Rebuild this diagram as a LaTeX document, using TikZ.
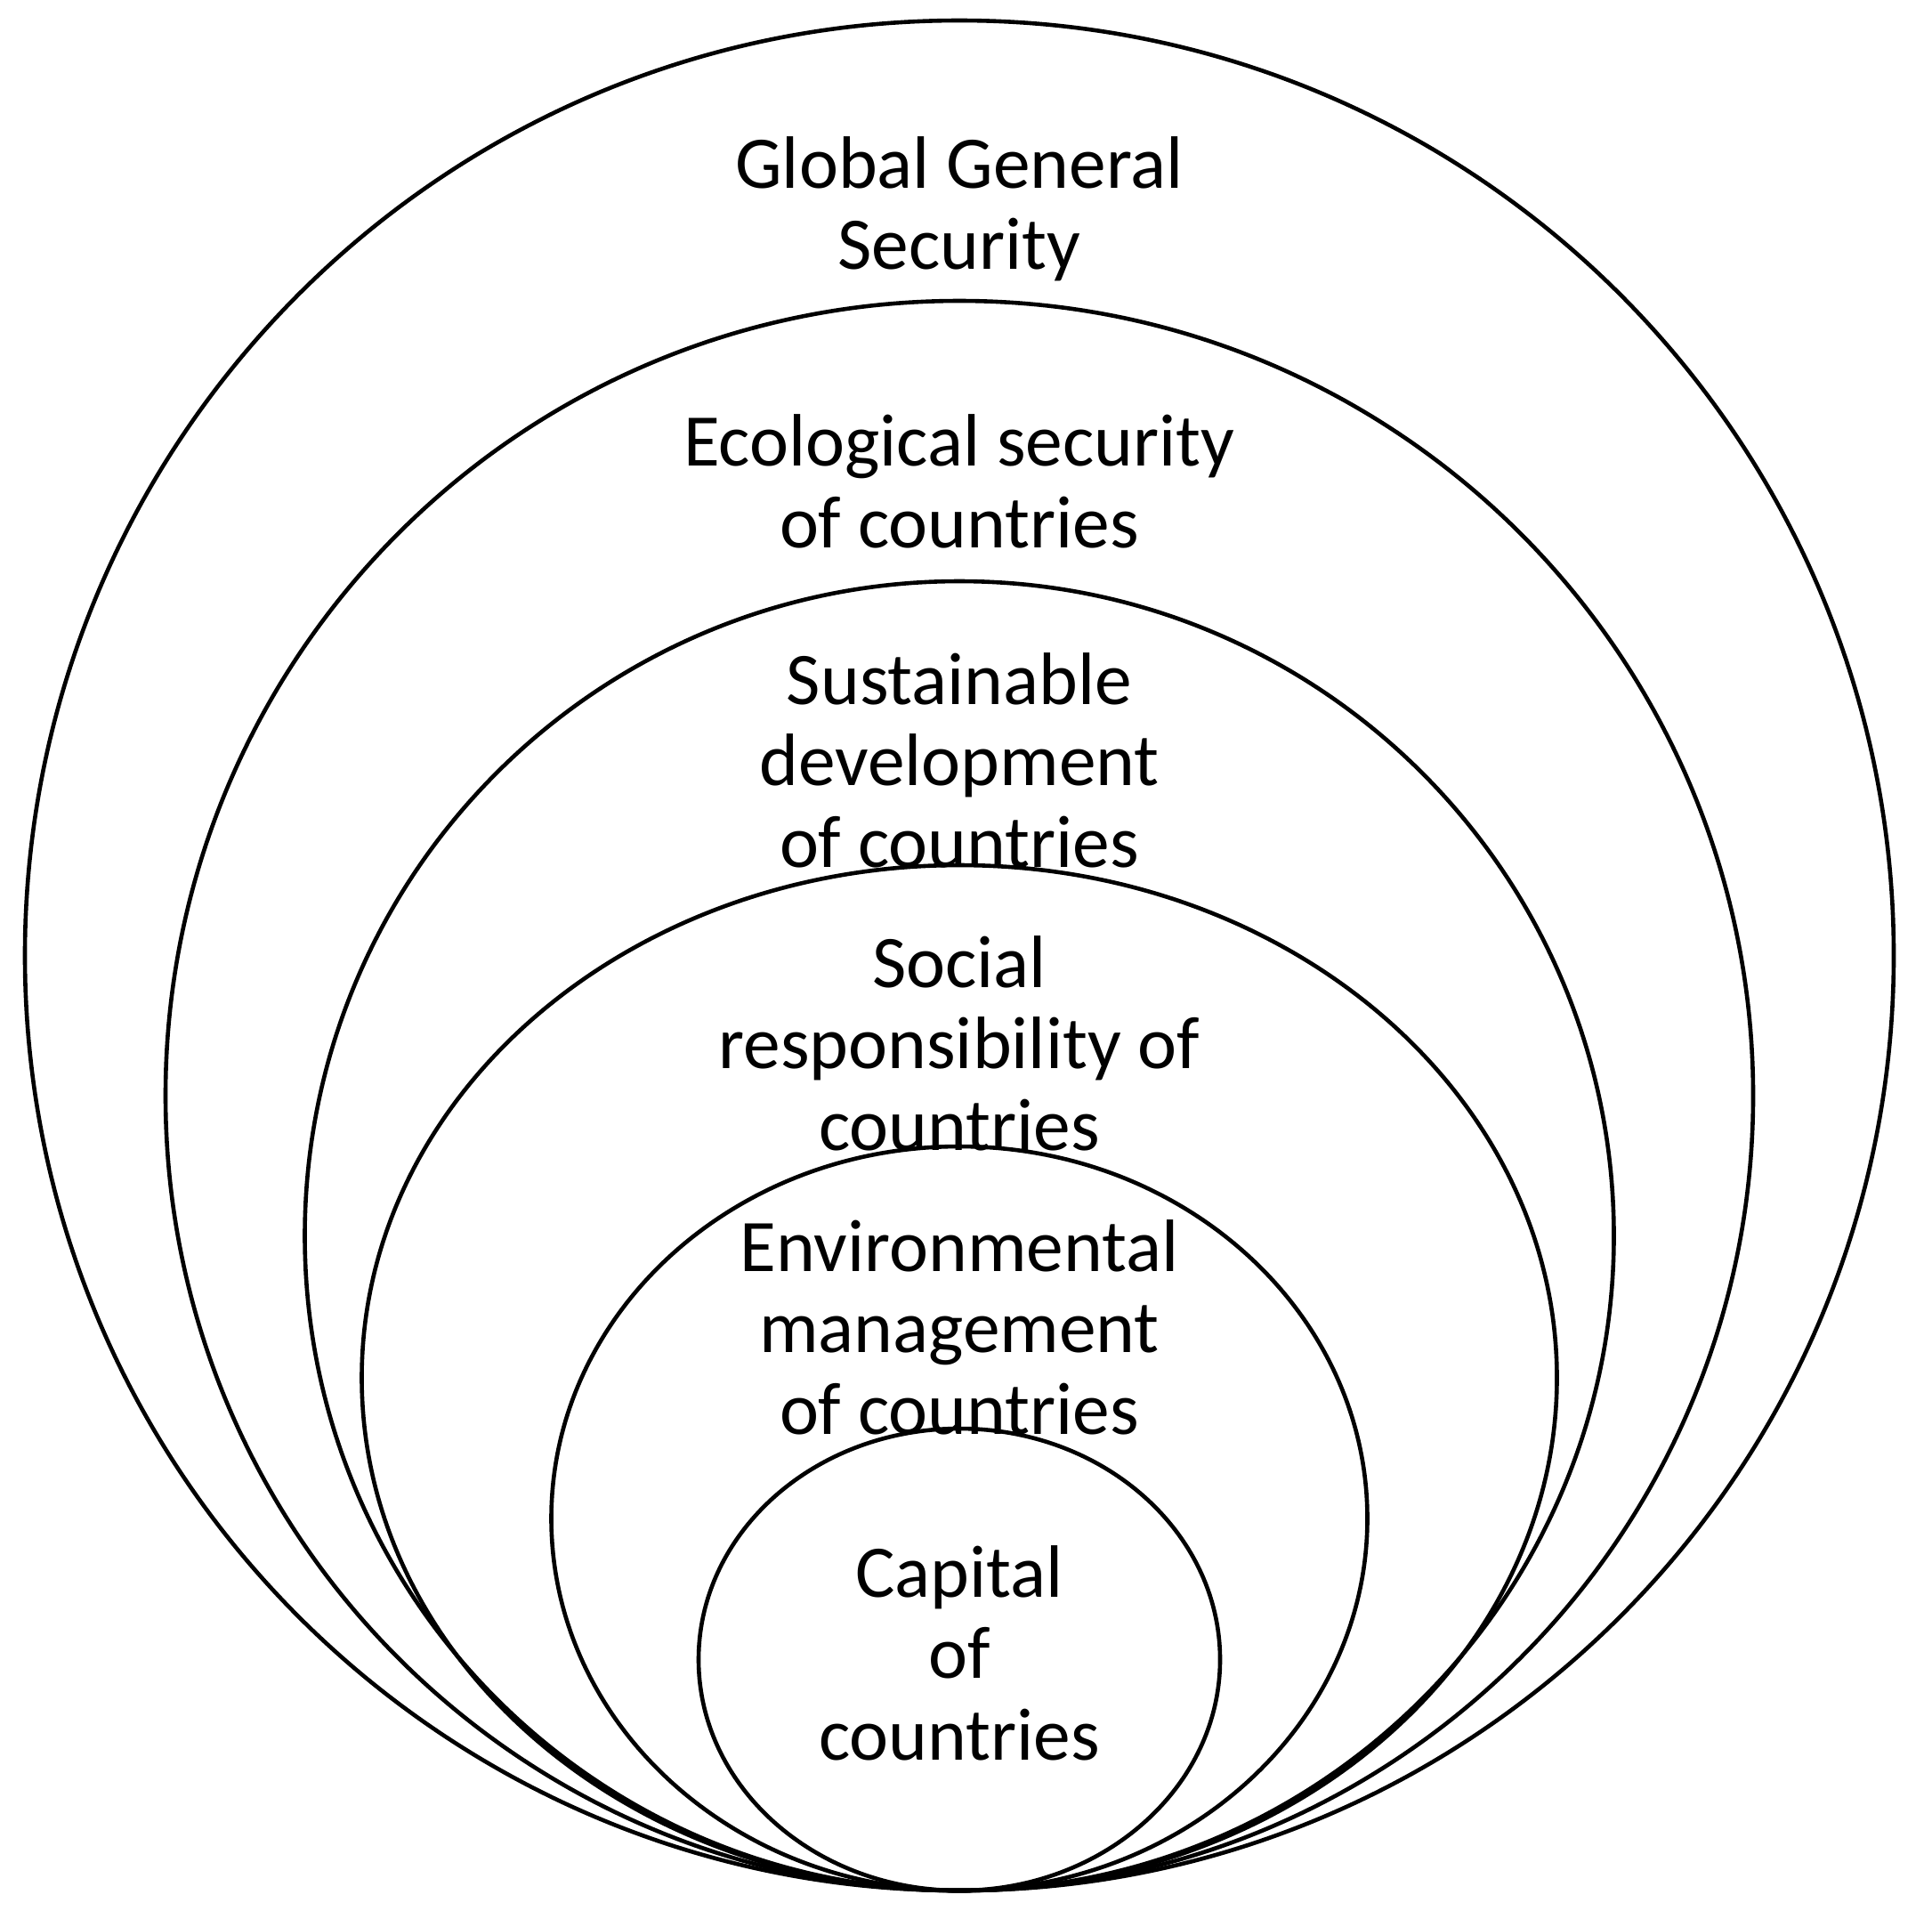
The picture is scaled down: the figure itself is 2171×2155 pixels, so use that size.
\documentclass[tikz,border=0pt]{standalone}
\usepackage{fontspec}
\setmainfont{Carlito}
\usepackage{tikz}
\tikzset{
  ring/.style={line width=1.15pt, draw=black},
  label/.style={align=center, inner sep=0pt, font=\fontsize{20.85}{22.85}\selectfont}
}

\begin{document}
\begin{tikzpicture}[x=0.25pt, y=-0.25pt]
			%%%%% START %%%%%
			\useasboundingbox (0, 0) rectangle (2171, 2155);
			
			\draw[ring] (1078, 1073.5) ellipse (1050 and 1050.5);
			\draw[ring] (1078, 1231) ellipse (892 and 893);
			\draw[ring] (1078, 1388.5) ellipse (735.5 and 735.5);
			\draw[ring] (1078, 1548) ellipse (671.5 and 576);
			\draw[ring] (1078, 1706) ellipse (458.5 and 418);
			\draw[ring] (1078, 1864.5) ellipse (293 and 259.5);
			
			\node[label] (global) at (1078, 235) {Global General\\Security};
			\node[label] (ecology) at (1078, 541) {Ecological security\\of countries};
			\node[label] (sustain) at (1078, 854) {Sustainable\\development\\of countries};
			\node[label] (social) at (1078, 1172) {Social\\responsibility of\\countries};
			\node[label] (environ) at (1078, 1491) {Environmental\\management\\of countries};
			\node[label] (capital) at (1078, 1857) {Capital\\of\\countries};
			
			%%%%% END %%%%%
		\end{tikzpicture}
\end{document}
